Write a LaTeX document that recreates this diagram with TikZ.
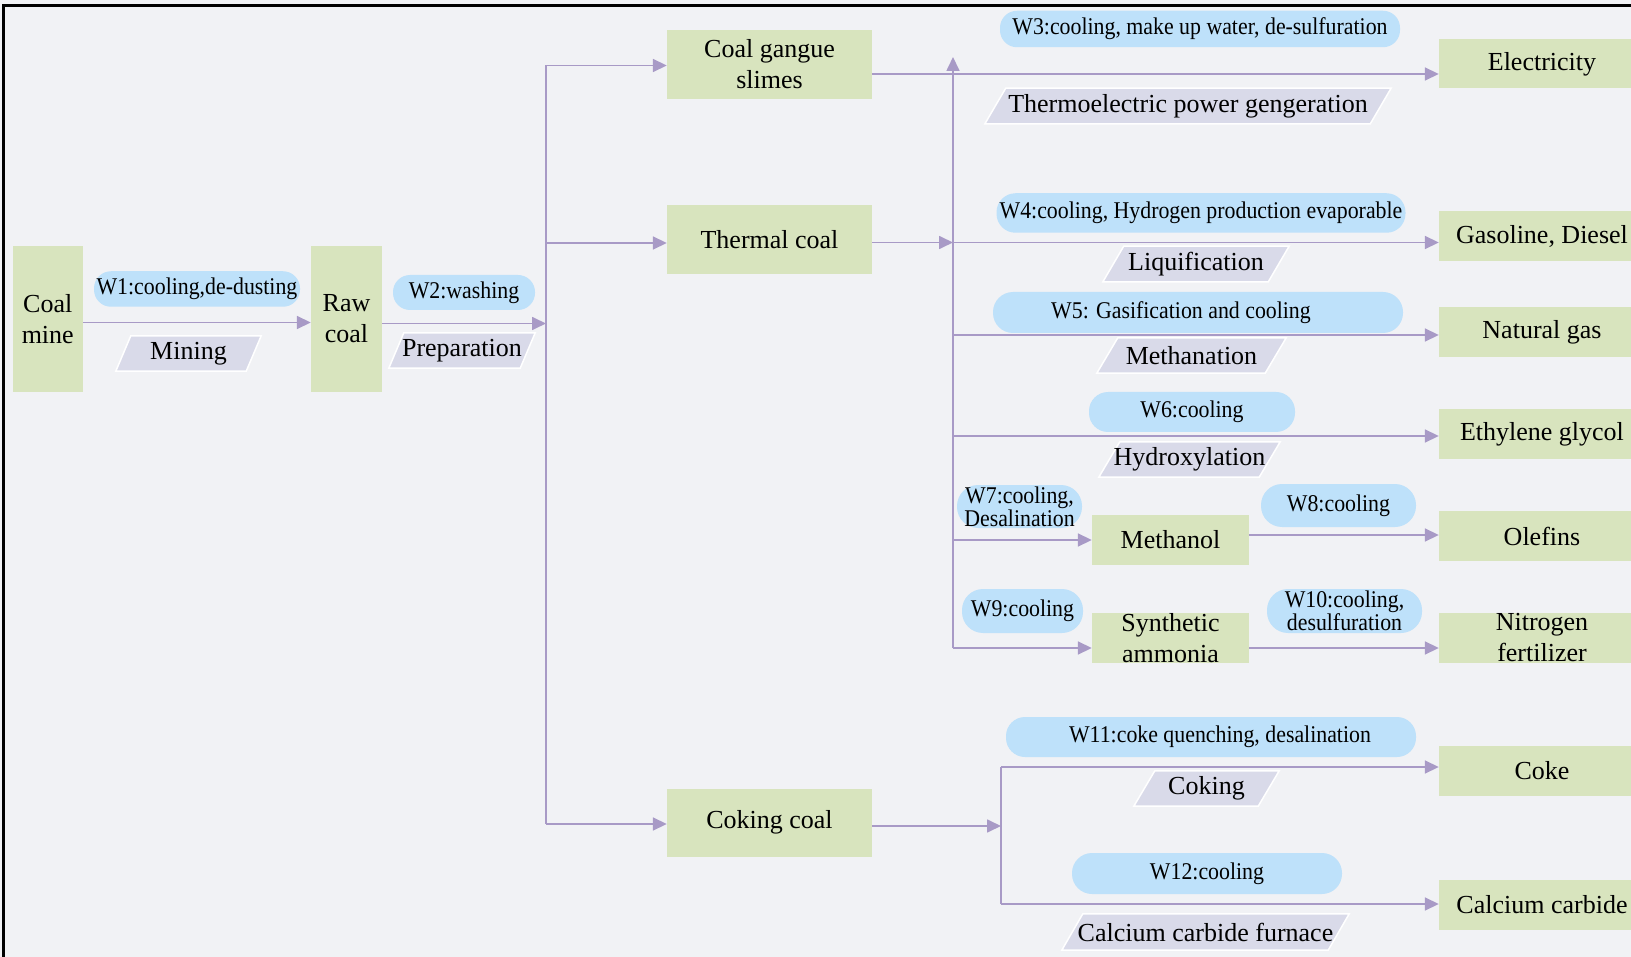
\documentclass[tikz,border=0pt]{standalone}
\usepackage{fontspec}
\setmainfont{Liberation Serif}
\newfontfamily\pillfont[FakeStretch=0.91]{Liberation Serif}
\usetikzlibrary{arrows.meta,calc,backgrounds}
\definecolor{bgc}{RGB}{241,242,245}
\definecolor{boxc}{RGB}{216,228,190}
\definecolor{pillc}{RGB}{190,225,250}
\definecolor{parac}{RGB}{217,218,233}
\definecolor{arrc}{RGB}{168,154,198}
\tikzset{
  sz/.style 2 args={minimum width=#1pt,minimum height=#2pt},
  box/.style={fill=boxc,inner sep=0pt,align=center,font=\fontsize{26}{31}\selectfont},
  prod/.style={box,minimum width=192pt,minimum height=50pt},
  pill/.style={fill=pillc,inner sep=0pt,align=center,rounded corners=#1,font=\pillfont\fontsize{24}{17}\selectfont},
  pill/.default=17pt,
  para/.style={inner sep=0pt,align=center,font=\fontsize{26}{31}\selectfont},
  line/.style={draw=arrc,line width=1.7pt},
  arr/.style={line,-{Triangle[length=14pt,width=13pt]}},
  frame/.style={draw=black,line width=2.5pt}
}
\newcommand{\rs}{\hspace*{14pt}}
\begin{document}
\begin{tikzpicture}[x=1pt,y=-1pt]
\useasboundingbox (0,0) rectangle (1631,957);

% left part
\node[box,sz={70.5}{145.5}] (cm) at (47.75,319) {Coal\\mine};
\node[box,sz={71}{145.5}] (rc) at (346.5,319) {Raw\\coal};
\node[pill,sz={206}{35.5}] (w1) at (197,289) {W1:cooling,de-dusting};
\node[para,sz={145}{35}] (mining) at (188.5,353.5) {Mining};
\node[pill,sz={142}{35}] (w2) at (464,292.5) {W2:washing};
\node[para,sz={146}{35}] (prep) at (462,350.5) {Preparation};

% coal types
\node[box,sz={205}{69}] (cgs) at (769.5,64.5) {Coal gangue\\slimes};
\node[box,sz={205}{69}] (tc) at (769.5,239.5) {Thermal coal};
\node[box,sz={205}{68.5}] (cc) at (769.5,822.75) {Coking coal};

% products
\node[prod,minimum height=49pt] (elec) at (1535,64) {\rs Electricity};
\node[prod] (gas) at (1535,236) {\rs Gasoline, Diesel};
\node[prod] (ng) at (1535,332) {\rs Natural gas};
\node[prod] (eg) at (1535,434) {\rs Ethylene glycol};
\node[prod] (ole) at (1535,536) {\rs Olefins};
\node[prod] (nf) at (1535,638) {\rs Nitrogen\\\rs fertilizer};
\node[prod] (coke) at (1535,771) {\rs Coke};
\node[prod] (cab) at (1535,905) {\rs Calcium carbide};

\node[box,sz={157}{50}] (meoh) at (1170.5,540) {Methanol};
\node[box,sz={157}{50}] (sa) at (1170.5,638) {Synthetic\\ammonia};

% water pills
\node[pill,sz={400}{36.5}] (w3) at (1200,29) {W3:cooling, make up water, de-sulfuration};
\node[pill=19pt,sz={409}{39.5}] (w4) at (1201,213) {W4:cooling, Hydrogen production evaporable};
\node[pill=20pt,sz={410}{41}] (w5) at (1198,312.5) {W5: Gasification and cooling\hspace*{34pt}};
\node[pill=19pt,sz={206}{40}] (w6) at (1192,412) {W6:cooling};
\node[pill=21pt,sz={125}{43}] (w7) at (1019.5,506.5) {W7:cooling,\\Desalination};
\node[pill=21pt,sz={155}{43}] (w8) at (1338.5,505.5) {W8:cooling};
\node[pill=21pt,sz={121}{44}] (w9) at (1022.5,611) {W9:cooling};
\node[pill=21pt,sz={155}{44}] (w10) at (1344.5,611) {W10:cooling,\\desulfuration};
\node[pill=19pt,sz={410}{40}] (w11) at (1211,737) {\hspace*{18pt}W11:coke quenching, desalination};
\node[pill=20pt,sz={270}{41}] (w12) at (1207,873.5) {W12:cooling};

% process parallelograms
\node[para,sz={406}{35.5}] (thermo) at (1188,106) {Thermoelectric power gengeration};
\node[para,sz={186}{35.5}] (liq) at (1196,264) {Liquification};
\node[para,sz={189}{35}] (meth) at (1191.5,355.5) {Methanation};
\node[para,sz={181}{35}] (hydrox) at (1189.5,459.5) {Hydroxylation};
\node[para,sz={145}{35}] (coking) at (1206.5,788.5) {Coking};
\node[para,sz={287}{36}] (ccf) at (1205.5,932) {Calcium carbide furnace};

% junction coordinates
\coordinate (j1) at (546,323.5);
\coordinate (ja) at (546,65.5);
\coordinate (jb) at (546,243);
\coordinate (jc) at (546,824);
\coordinate (k0) at (953,57);
\coordinate (k1) at (953,74);
\coordinate (k2) at (953,242.5);
\coordinate (k3) at (953,335);
\coordinate (k4) at (953,436);
\coordinate (k5) at (953,540);
\coordinate (k6) at (953,648);
\coordinate (m0) at (1001,826);
\coordinate (m1) at (1001,767);
\coordinate (m2) at (1001,904);

% connectors
\draw[arr] ([yshift=-3.5pt]cm.east) -- ([yshift=-3.5pt]cm.east -| rc.west);
\draw[arr] ([yshift=-4.5pt]rc.east) -- (j1);
\draw[line] (ja) -- (jc);
\draw[arr] (ja) -- (ja -| cgs.west);
\draw[arr] (jb) -- (jb -| tc.west);
\draw[arr] (jc) -- (jc -| cc.west);

\draw[arr] (k6) -- (k0);
\draw[line] (cgs.east |- k1) -- (k1);
\draw[arr] (k1) -- (k1 -| elec.west);
\draw[arr] (tc.east |- k2) -- (k2);
\draw[arr] (k2) -- (k2 -| gas.west);
\draw[arr] (k3) -- (k3 -| ng.west);
\draw[arr] (k4) -- (k4 -| eg.west);
\draw[arr] (k5) -- (k5 -| meoh.west);
\draw[arr] (k6) -- (k6 -| sa.west);
\draw[arr] ([yshift=5pt]meoh.east) -- ([yshift=5pt]meoh.east -| ole.west);
\draw[arr] ([yshift=-10pt]sa.east) -- ([yshift=-10pt]sa.east -| nf.west);

\draw[arr] (cc.east |- m0) -- (m0);
\draw[line] (m1) -- (m2);
\draw[arr] (m1) -- (m1 -| coke.west);
\draw[arr] (m2) -- (m2 -| cab.west);

% frame
\draw[frame] (3.5,957) -- (3.5,5.5) -- (1631,5.5);

\begin{scope}[on background layer]
  \fill[bgc] (0,0) rectangle (1631,957);
  \foreach \n/\s in {mining/15,prep/15,thermo/21,liq/21,meth/21,hydrox/21,coking/21,ccf/21}{
    \filldraw[fill=parac,draw=white,line width=1.5pt]
      (\n.south west) -- ($(\n.north west)+(\s,0)$) -- (\n.north east)
      -- ($(\n.south east)+(-\s,0)$) -- cycle;
  }
\end{scope}
\end{tikzpicture}
\end{document}
